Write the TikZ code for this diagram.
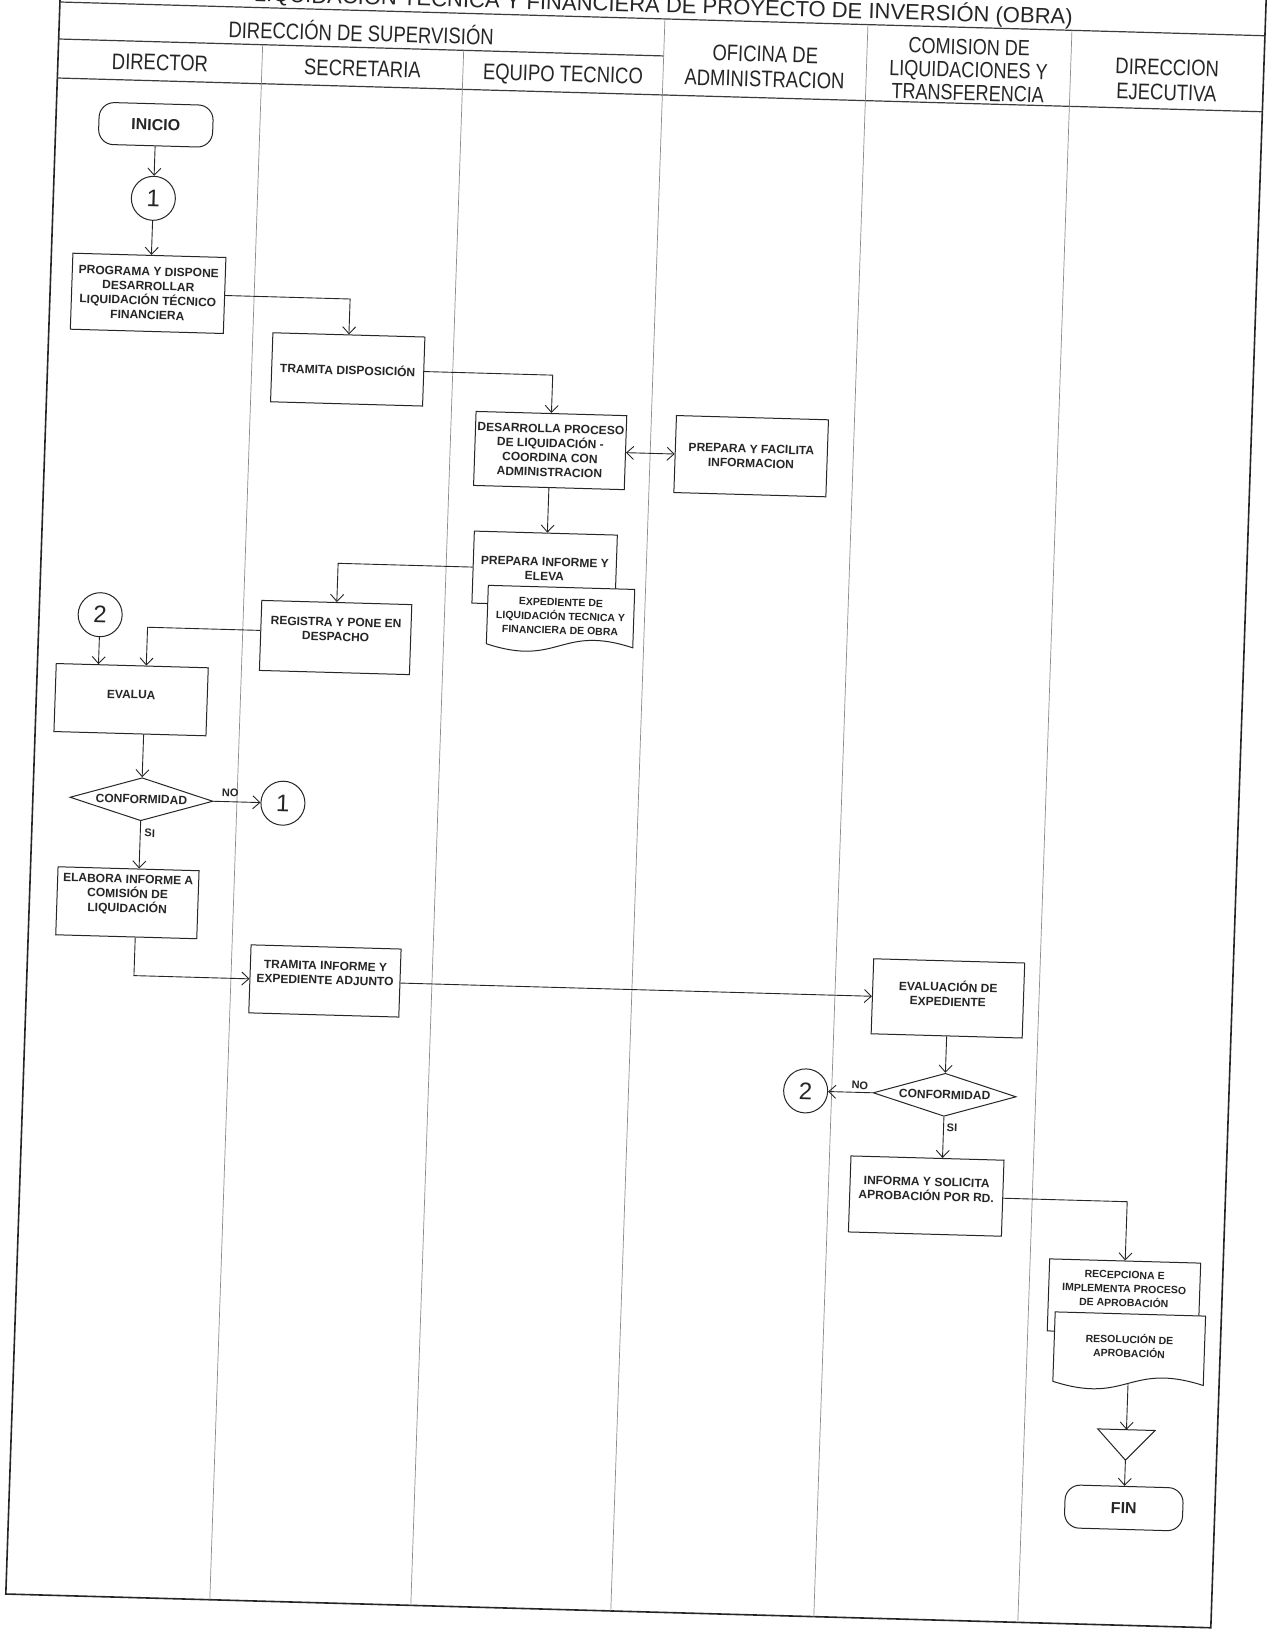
\documentclass[tikz,border=0pt]{standalone}
\usepackage{fontspec}
\setmainfont{Liberation Sans}
\newfontfamily\narrowsans[FakeStretch=0.82]{Liberation Sans}
\usetikzlibrary{shapes.geometric,arrows.meta,calc}

\newcommand\boxfont{\fontsize{12}{14.5}\selectfont\bfseries}
\newcommand\docfont{\fontsize{10.5}{14}\selectfont\bfseries}
\newcommand\headfont{\narrowsans\fontsize{22.5}{25}\selectfont}
\newcommand\titlefont{\fontsize{22}{24}\selectfont}

\definecolor{ink}{HTML}{262626}
\definecolor{lanegray}{HTML}{8C8C8C}

\tikzset{
  frameline/.style={draw=ink, line width=1.6pt},
  rowline/.style={draw=ink!90, line width=1.2pt},
  lane/.style={draw=lanegray, line width=0.7pt},
  head/.style={font=\headfont, text=ink, align=center, inner sep=0pt},
  wh/.style 2 args={minimum width=#1, minimum height=#2},
  proc/.style={draw=ink, line width=1pt, fill=white, align=center, font=\boxfont, text=ink, inner sep=2pt},
  term/.style={draw=ink, line width=1pt, fill=white, rounded corners=15pt, minimum width=114pt, minimum height=42pt, font=\fontsize{16}{18}\selectfont\bfseries, text=ink},
  conn/.style={draw=ink, line width=1pt, fill=white, circle, minimum size=44pt, inner sep=0pt, font=\fontsize{24}{24}\selectfont, text=ink},
  decision/.style={draw=ink, line width=1pt, fill=white, diamond, aspect=3.3, minimum width=143pt, minimum height=43pt, inner sep=0pt, font=\boxfont, text=ink},
  docframe/.style={draw=ink, line width=1pt, fill=white},
  holder/.style={draw=none, inner sep=0pt},
  doctext/.style={font=\docfont, align=center, text=ink, inner sep=0pt},
  boxtext/.style={font=\boxfont, align=center, text=ink, inner sep=0pt},
  tag/.style={font=\fontsize{11}{12}\selectfont\bfseries, text=ink, inner sep=0pt},
  flow/.style={draw=ink, line width=0.9pt, -{Straight Barb[length=7pt,width=13pt]}},
  twoway/.style={draw=ink, line width=0.9pt, {Straight Barb[length=7pt,width=13pt]}-{Straight Barb[length=7pt,width=13pt]}},
}

\begin{document}
\begin{tikzpicture}[x=1pt,y=-1pt]
\useasboundingbox (0,0) rectangle (1276,1630);
\fill[white] (0,0) rectangle (1276,1630);

% the sheet sits slightly skewed on the page
\begin{scope}[transform canvas={cm={1,-0.028,0.034,1,(60,0)}}]

% ---------- frame, header rows and swimlanes ----------
\draw[frameline] (0,-60) -- (0,1594) -- (1205,1594) -- (1205,-60);
\draw[rowline] (0,2) -- (1205,2);
\draw[rowline] (0,39) -- (605,39);
\draw[rowline] (0,78) -- (1205,78);
\draw[lane] (204,39) -- (204,1594);
\draw[lane] (405,39) -- (405,1594);
\draw[lane] (605,2) -- (605,1594);
\draw[lane] (808,2) -- (808,1594);
\draw[lane] (1012,2) -- (1012,1594);

\node[head, font=\titlefont, anchor=base] (hTitle) at (603,-4)
  {LIQUIDACIÓN TECNICA Y FINANCIERA DE PROYECTO DE INVERSIÓN (OBRA)};
\node[head, anchor=base] (hSup) at (302,33) {DIRECCIÓN DE SUPERVISIÓN};
\node[head, anchor=base] (hDir) at (102,67.5) {DIRECTOR};
\node[head, anchor=base] (hSec) at (304.5,68) {SECRETARIA};
\node[head, anchor=base] (hEq) at (505,67.5) {EQUIPO TECNICO};
\node[head] (hOf) at (706.5,47) {OFICINA DE\\ADMINISTRACION};
\node[head, font=\narrowsans\fontsize{22}{23}\selectfont] (hCom) at (910,44.5)
  {COMISION DE\\LIQUIDACIONES Y\\TRANSFERENCIA};
\node[head] (hEje) at (1108.5,49) {DIRECCION\\EJECUTIVA};

% ---------- process steps ----------
\node[term] (ini) at (100,122) {INICIO};
\node[conn] (c1a) at (100,195.5) {1};
\node[proc, wh={153pt}{76pt}] (prog) at (98,290.6)
  {PROGRAMA Y DISPONE\\DESARROLLAR\\LIQUIDACIÓN TÉCNICO\\FINANCIERA};
\node[proc, wh={152pt}{69pt}] (tram1) at (300,361) {TRAMITA DISPOSICIÓN};
\node[proc, wh={148pt}{74pt}] (desa) at (505,436.4)
  {DESARROLLA PROCESO\\DE LIQUIDACIÓN -\\COORDINA CON\\ADMINISTRACION};
\node[proc, wh={152pt}{77pt}] (facil) at (706,436.4) {PREPARA Y FACILITA\\INFORMACION};

\node[proc, wh={143pt}{72pt}] (elev) at (503.5,555) {PREPARA INFORME Y\\ELEVA};
\node[holder, wh={146pt}{58pt}] (exped) at (521,602) {};
\path[docframe] (exped.south west) -- (exped.north west) -- (exped.north east) -- (exped.south east)
  .. controls ([yshift=22pt]exped.south) and ([yshift=-22pt]exped.south) .. (exped.south west) -- cycle;
\node[doctext] (expedT) at (exped.center) {EXPEDIENTE DE\\LIQUIDACIÓN TECNICA Y\\FINANCIERA DE OBRA};

\node[conn] (c2a) at (61,613) {2};
\node[proc, wh={150pt}{70pt}] (reg) at (297,629.2) {};
\node[boxtext] (regT) at ([yshift=8pt]reg.center) {REGISTRA Y PONE EN\\DESPACHO};
\node[proc, wh={152pt}{68pt}] (ev) at (94.8,697) {};
\node[boxtext] (evT) at ([yshift=5pt]ev.center) {EVALUA};

\node[decision] (d1) at (108.5,796.2) {CONFORMIDAD};
\node[conn] (c1b) at (250,796.2) {1};
\node[tag] (noA) at (197,787) {NO};
\node[tag] (siA) at (118,830) {SI};

\node[proc, wh={141pt}{68pt}] (elab) at (98,900) {};
\node[boxtext] (elabT) at ([yshift=8pt]elab.center) {ELABORA INFORME A\\COMISIÓN DE\\LIQUIDACIÓN};
\node[proc, wh={150pt}{68pt}] (tram2) at (298,972.6) {};
\node[boxtext] (tram2T) at ([yshift=8pt]tram2.center) {TRAMITA INFORME Y\\EXPEDIENTE ADJUNTO};

\node[proc, wh={151pt}{75pt}] (evx) at (921,972.6) {};
\node[boxtext] (evxT) at ([yshift=5pt]evx.center) {EVALUACIÓN DE\\EXPEDIENTE};
\node[decision] (d2) at (921,1069) {CONFORMIDAD};
\node[conn] (c2b) at (782,1069) {2};
\node[tag] (noB) at (836,1062) {NO};
\node[tag] (siB) at (929.5,1102) {SI};
\node[proc, wh={153pt}{76pt}] (inf2) at (906,1170.7) {};
\node[boxtext] (inf2T) at ([yshift=7pt]inf2.center) {INFORMA Y SOLICITA\\APROBACIÓN POR RD.};

\node[proc, wh={151pt}{72pt}] (recep) at (1107,1266) {};
\node[doctext] (recepT) at ([yshift=8pt]recep.center) {RECEPCIONA E\\IMPLEMENTA PROCESO\\DE APROBACIÓN};
\node[holder, wh={150pt}{69pt}] (resol) at (1114,1317.5) {};
\path[docframe] (resol.south west) -- (resol.north west) -- (resol.north east) -- (resol.south east)
  .. controls ([yshift=22pt]resol.south) and ([yshift=-22pt]resol.south) .. (resol.south west) -- cycle;
\node[doctext] (resolT) at ([yshift=3pt]resol.center) {RESOLUCIÓN DE\\APROBACIÓN};

\node[holder, wh={57pt}{30pt}] (tri) at (1114,1413.7) {};
\path[docframe] (tri.north west) -- (tri.north east) -- (tri.south) -- cycle;
\node[term, minimum width=118pt, minimum height=43pt] (fin) at (1114,1476.7) {FIN};

% ---------- connectors ----------
\draw[flow] (ini) -- (c1a);
\draw[flow] (c1a.south) -- (c1a.south |- prog.north);
\draw[flow] (prog.east) -| (tram1.north);
\draw[flow] (tram1.east) -| (desa.north);
\draw[twoway] (desa.east) -- (facil.west);
\draw[flow] (desa.south) -- (desa.south |- elev.north);
\draw[flow] (elev.west) -| (reg.north);
\draw[flow] ([yshift=5pt]reg.west) -| ([xshift=14pt]ev.north);
\draw[flow] (c2a.south) -- (c2a.south |- ev.north);
\draw[flow] (d1.north |- ev.south) -- (d1.north);
\draw[flow] (d1.east) -- (c1b.west);
\draw[flow] (d1.south) -- (d1.south |- elab.north);
\draw[flow] ([xshift=9pt]elab.south) |- (tram2.west);
\draw[flow] (tram2.east) -- (evx.west);
\draw[flow] (evx.south) -- (d2.north);
\draw[flow] (d2.west) -- (c2b.east);
\draw[flow] (d2.south) -- (d2.south |- inf2.north);
\draw[flow] (inf2.east) -| (recep.north);
\draw[flow] (resol.south) -- (tri.north);
\draw[flow] (tri.south) -- (fin.north);

\end{scope}
\end{tikzpicture}
\end{document}
